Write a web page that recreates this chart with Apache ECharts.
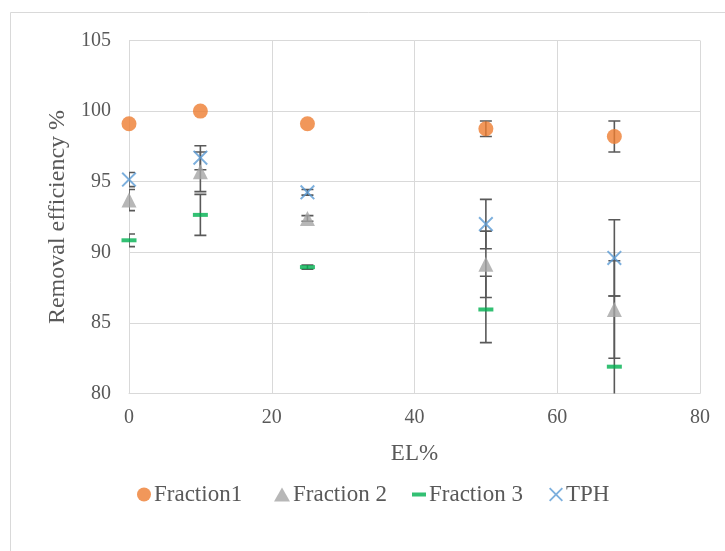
<!DOCTYPE html>
<html><head><meta charset="utf-8">
<script src="https://cdn.jsdelivr.net/npm/echarts@6/dist/echarts.min.js"></script>
<style>html,body{margin:0;padding:0;background:#fff}#c{width:725px;height:551px}</style>
</head><body><div id="c"></div><script>
// ---- data ----
const xValues = [0, 10, 25, 50, 68];
const fraction1 = [99.1, 100.0, 99.1, 98.75, 98.2];
const fraction1Err = [0, 0, 0, 0.55, 1.1];
const fraction2 = [93.7, 95.7, 92.4, 89.15, 85.95];
const fraction2Err = [0.75, 1.4, 0.2, 2.35, 3.45];
const fraction3 = [90.85, 92.65, 88.95, 85.95, 81.9];
const fraction3Err = [0.45, 1.45, 0.15, 2.35, 5.0];
const tph = [95.15, 96.7, 94.25, 92.0, 89.6];
const tphErr = [0.5, 0.85, 0.2, 1.75, 2.7];
const seriesNames = ['Fraction1', 'Fraction 2', 'Fraction 3', 'TPH'];
const xTitle = 'EL%';
const yTitle = 'Removal efficiency %';

// ---- styles ----
const FONT = 'Liberation Serif';
const TXT = '#595959';
const GRID = '#D9D9D9';
const ERR = '#595959';
const colors = ['#ED7D31', '#A5A5A5', '#00B050', '#5B9BD5'];
const X_PATH = 'path://M0,1.3L1.3,0L7,5.7L12.7,0L14,1.3L8.3,7L14,12.7L12.7,14L7,8.3L1.3,14L0,12.7L5.7,7Z';

const pairs = (vals) => xValues.map((x, i) => [x, vals[i]]);
const errData = (vals, errs) => xValues
  .map((x, i) => [x, vals[i] - errs[i], vals[i] + errs[i], errs[i]])
  .filter(d => d[3] > 0);

function errorSeries(vals, errs) {
  return {
    type: 'custom',
    clip: true,
    z: 1,
    silent: true,
    data: errData(vals, errs),
    renderItem: function (params, api) {
      const x = api.value(0);
      const lo = api.coord([x, api.value(1)]);
      const hi = api.coord([x, api.value(2)]);
      const hw = 6;
      const st = { stroke: ERR, lineWidth: 1.6 };
      return {
        type: 'group',
        children: [
          { type: 'line', shape: { x1: lo[0], y1: lo[1], x2: hi[0], y2: hi[1] }, style: st },
          { type: 'line', shape: { x1: lo[0] - hw, y1: lo[1], x2: lo[0] + hw, y2: lo[1] }, style: st },
          { type: 'line', shape: { x1: hi[0] - hw, y1: hi[1], x2: hi[0] + hw, y2: hi[1] }, style: st }
        ]
      };
    }
  };
}

const chart = echarts.init(document.getElementById('c'), null, { renderer: 'canvas' });

const legendBase = {
  orient: 'horizontal',
  top: 483,
  padding: 0,
  itemGap: 0,
  selectedMode: false,
  textStyle: { fontFamily: FONT, fontSize: 23, color: TXT, padding: [0, 0, 0, -2] }
};

chart.setOption({
  animation: false,
  backgroundColor: '#fff',
  textStyle: { fontFamily: FONT },
  graphic: [{
    type: 'rect',
    shape: { x: 10.5, y: 12.5, width: 760, height: 600 },
    style: { fill: 'none', stroke: '#D9D9D9', lineWidth: 1 },
    z: -10, silent: true
  }],
  grid: { left: 129, right: 25, top: 40.5, bottom: 157.5, containLabel: false },
  xAxis: {
    type: 'value', min: 0, max: 80, interval: 20,
    name: xTitle, nameLocation: 'middle', nameGap: 49,
    nameTextStyle: { fontFamily: FONT, fontSize: 23, color: TXT },
    axisLine: { show: true, lineStyle: { color: GRID, width: 1 } },
    axisTick: { show: false },
    axisLabel: { fontFamily: FONT, fontSize: 20, color: TXT, margin: 14 },
    splitLine: { show: true, lineStyle: { color: GRID, width: 1 } }
  },
  yAxis: {
    type: 'value', min: 80, max: 105, interval: 5,
    name: yTitle, nameLocation: 'middle', nameGap: 54,
    nameTextStyle: { fontFamily: FONT, fontSize: 24, color: TXT },
    axisLine: { show: true, lineStyle: { color: GRID, width: 1 } },
    axisTick: { show: false },
    axisLabel: { fontFamily: FONT, fontSize: 20, color: TXT, margin: 18 },
    splitLine: { show: true, lineStyle: { color: GRID, width: 1 } }
  },
  legend: [
    Object.assign({}, legendBase, { left: 137, itemWidth: 14, itemHeight: 14, data: [{ name: seriesNames[0], icon: 'circle' }] }),
    Object.assign({}, legendBase, { left: 274, itemWidth: 16, itemHeight: 14, data: [{ name: seriesNames[1], icon: 'triangle' }] }),
    Object.assign({}, legendBase, { left: 412, itemWidth: 14, itemHeight: 4, data: [{ name: seriesNames[2], icon: 'rect' }] }),
    Object.assign({}, legendBase, { left: 549, itemWidth: 14, itemHeight: 14, data: [{ name: seriesNames[3], icon: X_PATH }] })
  ],
  series: [
    errorSeries(fraction1, fraction1Err),
    errorSeries(fraction2, fraction2Err),
    errorSeries(fraction3, fraction3Err),
    errorSeries(tph, tphErr),
    { name: seriesNames[0], type: 'scatter', z: 3, symbol: 'circle', symbolSize: 15,
      itemStyle: { color: colors[0] }, data: pairs(fraction1) },
    { name: seriesNames[1], type: 'scatter', z: 3, symbol: 'triangle', symbolSize: [15, 15],
      itemStyle: { color: colors[1] }, data: pairs(fraction2) },
    { name: seriesNames[2], type: 'scatter', z: 3, symbol: 'rect', symbolSize: [15, 4],
      itemStyle: { color: colors[2] }, data: pairs(fraction3) },
    { name: seriesNames[3], type: 'scatter', z: 3, symbol: X_PATH, symbolSize: 15,
      itemStyle: { color: colors[3] }, data: pairs(tph) }
  ]
});
</script></body></html>
